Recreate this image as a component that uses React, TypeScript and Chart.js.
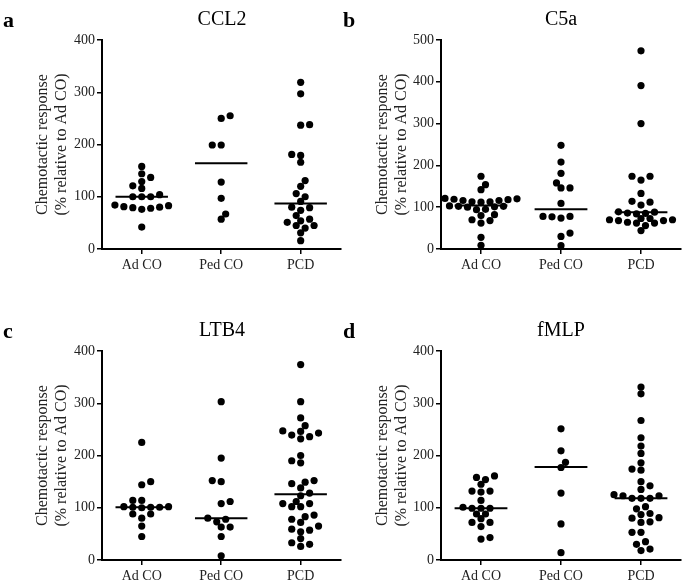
import React, { useEffect, useRef } from 'react';
import { Chart, registerables } from 'chart.js';
Chart.register(...registerables);

// ---------- data ----------
const categories = ['Ad CO', 'Ped CO', 'PCD'];
const yTitle = ['Chemotactic response', '(% relative to Ad CO)'];

const ccl2Ad = [158, 144, 137, 129, 116, 121, 100, 100, 100, 104, 84, 83, 81, 80, 79, 78, 76, 42];
const ccl2Ped = [255, 250, 199, 199, 128, 97, 67, 57];
const ccl2Pcd = [319, 297, 237, 238, 179, 181, 166, 131, 120, 100, 106, 91, 79, 80, 74, 64, 57, 51, 45, 40, 45, 54, 31, 16];
const ccl2Center = [100, 164, 87];

const c5aAd = [174, 154, 142, 121, 119, 116, 113, 112, 113, 116, 118, 120, 103, 102, 94, 102, 101, 95, 100, 82, 80, 68, 62, 70, 28, 9];
const c5aPed = [248, 208, 181, 158, 146, 146, 109, 78, 74, 77, 78, 38, 30, 8];
const c5aPcd = [474, 391, 300, 174, 174, 165, 133, 114, 105, 112, 89, 86, 85, 88, 84, 73, 70, 68, 68, 70, 73, 64, 62, 56, 62, 44];
const c5aCenter = [104, 95, 88];

const ltb4Ad = [225, 150, 144, 114, 114, 102, 101, 101, 100, 101, 102, 88, 88, 80, 65, 45];
const ltb4Ped = [303, 195, 150, 152, 112, 108, 78, 80, 73, 63, 63, 45, 8];
const ltb4Pcd = [374, 303, 272, 257, 247, 243, 236, 232, 239, 246, 200, 186, 190, 149, 146, 152, 138, 123, 128, 108, 102, 102, 108, 112, 83, 72, 65, 78, 86, 57, 54, 59, 33, 26, 30, 41];
const ltb4Center = [101, 80, 126];

const fmlpAd = [158, 154, 161, 145, 130, 132, 132, 114, 99, 99, 99, 101, 79, 88, 88, 72, 72, 64, 40, 43];
const fmlpPed = [251, 209, 187, 177, 128, 69, 14];
const fmlpPcd = [331, 318, 267, 234, 218, 204, 186, 174, 172, 150, 142, 135, 125, 123, 118, 118, 118, 123, 98, 102, 89, 81, 72, 73, 80, 87, 53, 53, 30, 35, 18, 21];
const fmlpCenter = [99, 178, 118];

// ---------- layout constants ----------
const FONT = 'Liberation Serif';
const PLOT_H = 209;
const CAT_PX = 80;
const HALF_STEP_PX = 4.5;
const MIN_DIST_PX = 6.3;
const HALF_LINE = 0.33;
const CANVAS_H = 276;
const DOT_R = 3.6;

type PanelCfg = {
  letter: string;
  title: string;
  yMax: number;
  groups: number[][];
  centers: number[];
  left: number;
  top: number;
  width: number;
  yAxisW: number;
  padRight: number;
};

const panels: PanelCfg[] = [
  { letter: 'a', title: 'CCL2', yMax: 400, groups: [ccl2Ad, ccl2Ped, ccl2Pcd], centers: ccl2Center, left: 0, top: 0, width: 344, yAxisW: 102, padRight: 2 },
  { letter: 'b', title: 'C5a', yMax: 500, groups: [c5aAd, c5aPed, c5aPcd], centers: c5aCenter, left: 340, top: 0, width: 345, yAxisW: 101, padRight: 4 },
  { letter: 'c', title: 'LTB4', yMax: 400, groups: [ltb4Ad, ltb4Ped, ltb4Pcd], centers: ltb4Center, left: 0, top: 311, width: 344, yAxisW: 102, padRight: 2 },
  { letter: 'd', title: 'fMLP', yMax: 400, groups: [fmlpAd, fmlpPed, fmlpPcd], centers: fmlpCenter, left: 340, top: 311, width: 345, yAxisW: 101, padRight: 4 },
];

// beeswarm: each value keeps its y, gets the nearest free sideways slot
function swarm(values: number[], pxPerUnit: number): number[] {
  const idx = values.map((_, i) => i).sort((a, b) => values[a] - values[b]);
  const placed: { x: number; y: number }[] = [];
  const offsets = new Array(values.length).fill(0);
  let flip = 1;
  for (const id of idx) {
    const y = values[id] * pxPerUnit;
    for (let k = 0; k < 80; k++) {
      const m = Math.ceil(k / 2);
      const sign = k === 0 ? 0 : k % 2 === 1 ? flip : -flip;
      const x = sign * m * HALF_STEP_PX;
      const free = placed.every((p) => (p.x - x) ** 2 + (p.y - y) ** 2 >= MIN_DIST_PX * MIN_DIST_PX);
      if (free) {
        offsets[id] = x;
        placed.push({ x, y });
        if (x !== 0) flip = -Math.sign(x);
        break;
      }
    }
  }
  return offsets;
}

function Panel({ cfg }: { cfg: PanelCfg }) {
  const ref = useRef<HTMLCanvasElement>(null);
  useEffect(() => {
    if (!ref.current) return;
    const pxPerUnit = PLOT_H / cfg.yMax;
    const datasets: any[] = [];
    cfg.groups.forEach((vals, i) => {
      const offs = swarm(vals, pxPerUnit);
      datasets.push({
        type: 'scatter',
        data: vals.map((v, j) => ({ x: i + offs[j] / CAT_PX, y: v })),
        pointRadius: DOT_R,
        pointHoverRadius: DOT_R,
        backgroundColor: '#000',
        borderWidth: 0,
      });
    });
    cfg.centers.forEach((c, i) => {
      datasets.push({
        type: 'scatter',
        showLine: true,
        data: [{ x: i - HALF_LINE, y: c }, { x: i + HALF_LINE, y: c }],
        borderColor: '#000',
        borderWidth: 2,
        pointRadius: 0,
        pointHoverRadius: 0,
      });
    });
    const gridOpts = { drawOnChartArea: false, drawTicks: true, tickLength: 5, color: '#000', lineWidth: 1.5 };
    const chart = new Chart(ref.current, {
      type: 'scatter',
      data: { datasets },
      options: {
        animation: false,
        responsive: false,
        events: [],
        layout: { padding: { top: 40, left: 0, right: cfg.padRight, bottom: 0 } },
        plugins: { legend: { display: false }, tooltip: { enabled: false }, title: { display: false } },
        scales: {
          x: {
            type: 'linear',
            min: -0.5,
            max: 2.5,
            afterBuildTicks: (s: any) => {
              s.ticks = categories.map((_, i) => ({ value: i }));
            },
            afterFit: (s: any) => {
              s.height = CANVAS_H - 40 - PLOT_H;
            },
            ticks: {
              callback: (v: any) => categories[Math.round(Number(v))] ?? '',
              font: { family: FONT, size: 14 },
              color: '#222',
              padding: 3,
              autoSkip: false,
              maxRotation: 0,
            },
            grid: gridOpts,
            border: { display: true, color: '#000', width: 2 },
          },
          y: {
            min: 0,
            max: cfg.yMax,
            afterFit: (s: any) => {
              s.width = cfg.yAxisW;
            },
            ticks: { stepSize: 100, font: { family: FONT, size: 14 }, color: '#222', padding: 2 },
            grid: gridOpts,
            border: { display: true, color: '#000', width: 2 },
            title: {
              display: true,
              text: yTitle,
              font: { family: FONT, size: 16 },
              color: '#222',
              padding: { top: 33, bottom: 0 },
            },
          },
        },
      } as any,
    });
    return () => chart.destroy();
  }, [cfg]);

  const plotCenter = cfg.yAxisW + (cfg.width - cfg.padRight - cfg.yAxisW) / 2;
  return (
    <div style={{ position: 'absolute', left: cfg.left, top: cfg.top, width: cfg.width, height: CANVAS_H }}>
      <canvas ref={ref} width={cfg.width} height={CANVAS_H} style={{ width: cfg.width, height: CANVAS_H, display: 'block' }} />
      <div
        style={{
          position: 'absolute',
          left: 3,
          top: 9,
          fontFamily: FONT,
          fontWeight: 'bold',
          fontSize: 22,
          lineHeight: '22px',
          color: '#000',
        }}
      >
        {cfg.letter}
      </div>
      <div
        style={{
          position: 'absolute',
          left: plotCenter - 100,
          width: 200,
          top: 8,
          textAlign: 'center',
          fontFamily: FONT,
          fontSize: 20,
          lineHeight: '20px',
          color: '#000',
        }}
      >
        {cfg.title}
      </div>
    </div>
  );
}

export default function App() {
  useEffect(() => {
    document.body.style.margin = '0';
    document.body.style.overflow = 'hidden';
    document.body.style.background = '#fff';
  }, []);
  return (
    <div style={{ position: 'absolute', left: 0, top: 0, width: 685, height: 587, background: '#fff', overflow: 'hidden' }}>
      {panels.map((p) => (
        <Panel key={p.letter} cfg={p} />
      ))}
    </div>
  );
}
